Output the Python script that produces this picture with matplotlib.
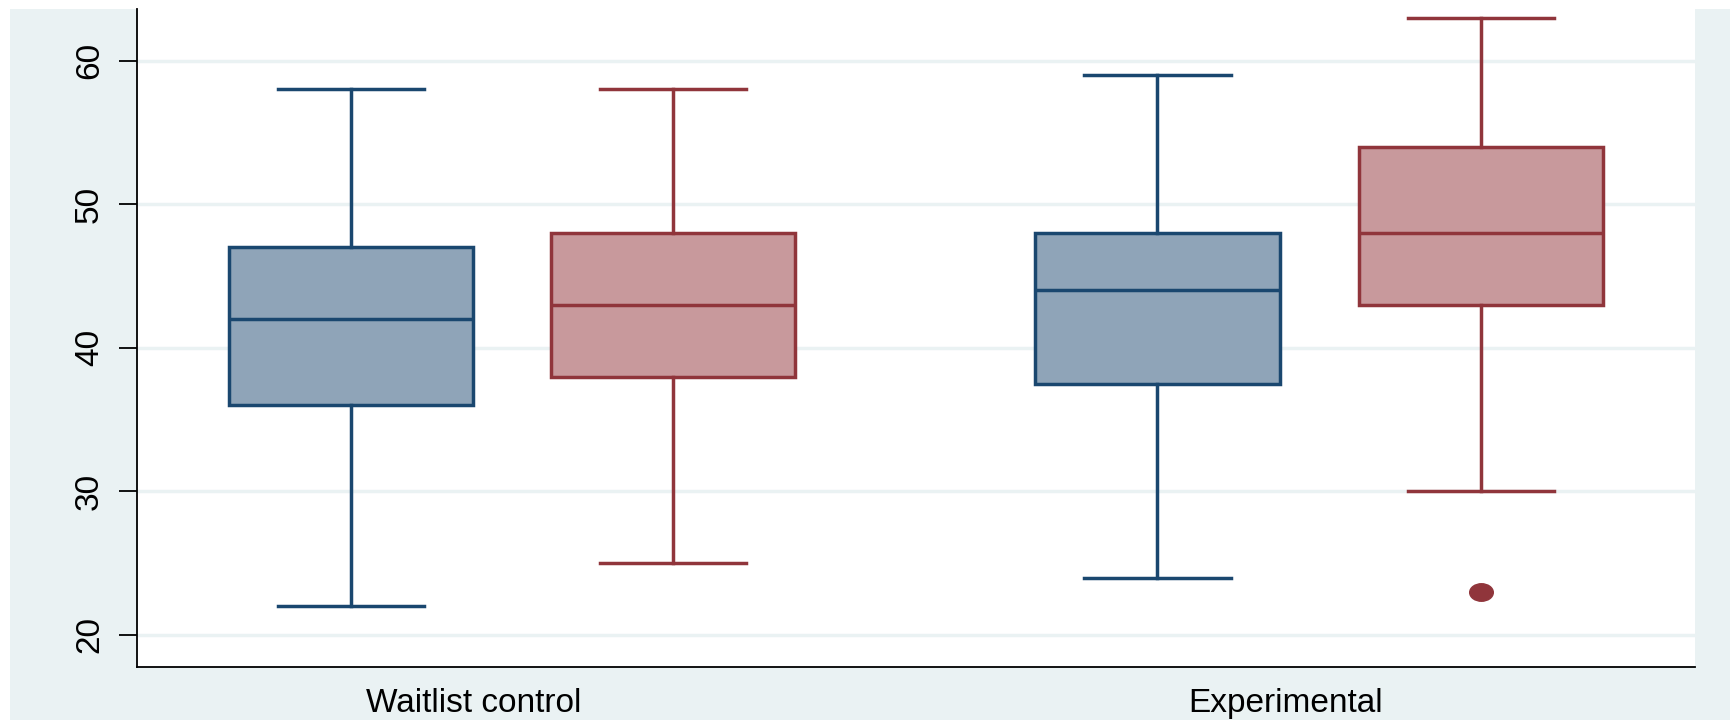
"""
Box plot of scores by group and time point (Stata s2color look).
"""

import numpy as np
import matplotlib
matplotlib.use("Agg")
import matplotlib.pyplot as plt
from matplotlib.patches import Rectangle
from matplotlib.path import Path

plt.rcParams['font.family'] = ['Liberation Sans', 'DejaVu Sans']

# -------------------------------------------------------
# Data
# -------------------------------------------------------

groups = ["Waitlist control", "Experimental"]
series = ["pre", "post"]

whislo = [22, 25, 24, 30]
q1 = [36, 38, 37.5, 43]
med = [42, 43, 44, 48]
q3 = [47, 48, 48, 54]
whishi = [58, 58, 59, 63]
fliers = [[], [], [], [23]]

yticks = [20, 30, 40, 50, 60]

# -------------------------------------------------------
# Style
# -------------------------------------------------------

edge_colors = ["#1a476f", "#90353b", "#1a476f", "#90353b"]
fill_colors = ["#8fa4b8", "#c8999c", "#8fa4b8", "#c8999c"]
bg = "#eaf2f3"

W, H = 1731, 720
fig = plt.figure(figsize=(W / 100, H / 100), dpi=100, facecolor="white")

# grey outer region
fig.patches.append(Rectangle((10 / W, 0), 1 - 10 / W, 711 / H,
                             transform=fig.transFigure,
                             facecolor=bg, edgecolor="none", zorder=-10))

ax = fig.add_axes([137 / W, (H - 667) / H, (1695 - 137) / W, (667 - 9) / H])
ax.set_facecolor("white")

positions = [0.1374, 0.344, 0.655, 0.8626]
label_pos = [0.216, 0.7375]

# ellipse-shaped outlier marker
circ = Path.unit_circle()
ell = Path(circ.vertices * np.array([1.35, 1.0]), circ.codes)

lw = 2.5
for i in range(4):
    stats = [dict(whislo=whislo[i], q1=q1[i], med=med[i], q3=q3[i],
                  whishi=whishi[i], fliers=fliers[i])]
    ax.bxp(stats, positions=[positions[i]], widths=0.157,
           patch_artist=True, showcaps=True,
           boxprops=dict(facecolor=fill_colors[i], edgecolor=edge_colors[i],
                         linewidth=lw),
           medianprops=dict(color=edge_colors[i], linewidth=lw),
           whiskerprops=dict(color=edge_colors[i], linewidth=lw),
           capprops=dict(color=edge_colors[i], linewidth=lw),
           capwidths=0.094,
           flierprops=dict(marker=ell, markersize=17,
                           markerfacecolor=edge_colors[i],
                           markeredgecolor=edge_colors[i]),
           manage_ticks=False, zorder=3)

ax.set_xlim(0, 1)
ax.set_ylim(17.77, 63.6)

ax.set_yticks(yticks)
ax.set_yticklabels([str(t) for t in yticks], rotation=90, va="center",
                   fontsize=24)
ax.tick_params(axis="y", length=13, width=1.3, pad=10)

ax.set_xticks(label_pos)
ax.set_xticklabels(groups, fontsize=24)
ax.tick_params(axis="x", length=0, pad=15)

ax.grid(axis="y", color=bg, linewidth=2.5, zorder=0)
ax.set_axisbelow(True)

for side in ["top", "right"]:
    ax.spines[side].set_visible(False)
for side in ["left", "bottom"]:
    ax.spines[side].set_linewidth(1.3)
    ax.spines[side].set_color("black")

fig.savefig("out.png", dpi=100)
